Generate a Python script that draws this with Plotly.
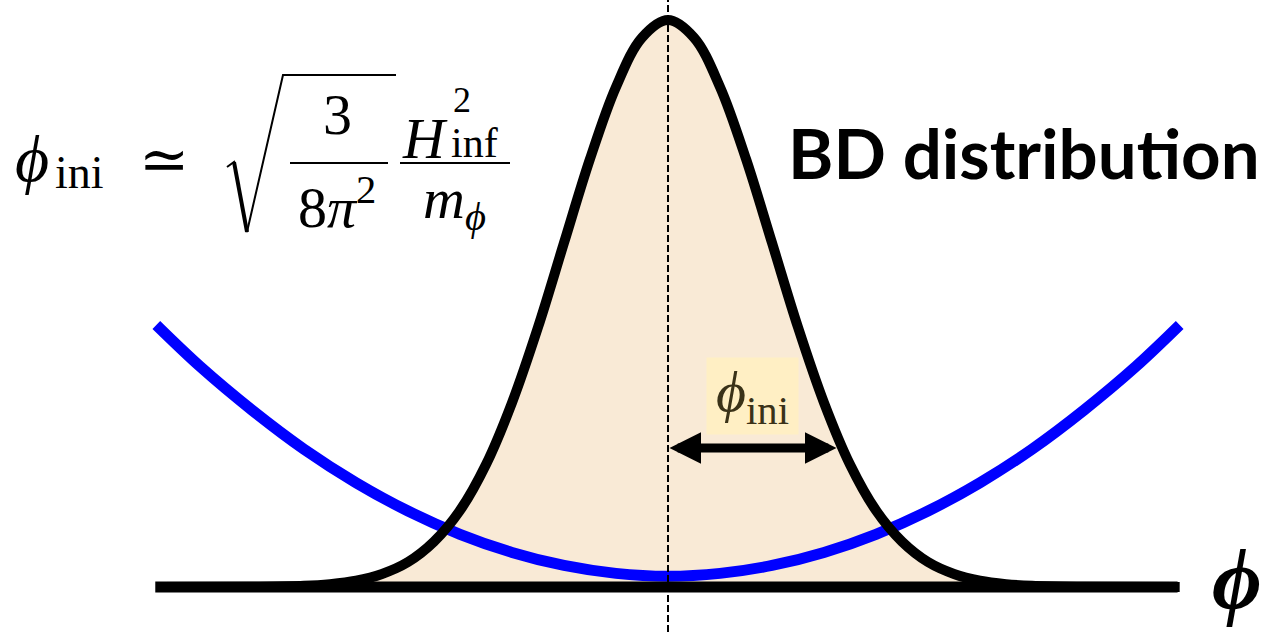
import plotly.graph_objects as go

# ---- data (phi in units of the distribution width, heights normalised to the peak) ----
phi_bd = [-4.92, -4.0, -3.5, -3.25, -3.0, -2.75, -2.5, -2.25, -2.0, -1.75, -1.5, -1.25,
          -1.0, -0.75, -0.5, -0.25, 0.0, 0.25, 0.5, 0.75, 1.0, 1.25, 1.5, 1.75, 2.0,
          2.25, 2.5, 2.75, 3.0, 3.25, 3.5, 4.0, 4.92]
bd_density = [0.0, 0.0004, 0.002, 0.005, 0.011, 0.023, 0.044, 0.08, 0.135, 0.216, 0.325, 0.458,
              0.607, 0.755, 0.882, 0.969, 1.0, 0.969, 0.882, 0.755, 0.607, 0.458, 0.325, 0.216, 0.135,
              0.08, 0.044, 0.023, 0.011, 0.005, 0.002, 0.0004, 0.0]

phi_pot = [-4.92, -4.5, -4.0, -3.5, -3.0, -2.5, -2.0, -1.5, -1.0, -0.5, 0.0,
           0.5, 1.0, 1.5, 2.0, 2.5, 3.0, 3.5, 4.0, 4.5, 4.92]
potential = [0.462, 0.389, 0.312, 0.243, 0.184, 0.134, 0.093, 0.061, 0.038, 0.024, 0.019,
             0.024, 0.038, 0.061, 0.093, 0.134, 0.184, 0.243, 0.312, 0.389, 0.462]

axis_span = [-4.93, 4.9]
phi_ini = 1.62          # half-width marked by the arrow
arrow_level = 0.245     # height of the arrow
label_level = 0.337     # centre height of the phi_ini label

W, H = 1266, 632
FILL = "#F9EAD6"
SERIF = "Liberation Serif, DejaVu Serif, serif"


def px(x):
    return x / W


def py(y):
    return 1 - y / H


fig = go.Figure()

# shaded distribution
fig.add_trace(go.Scatter(x=phi_bd, y=bd_density, mode="lines", fill="tozeroy",
                         fillcolor=FILL, line=dict(width=0, shape="spline"),
                         hoverinfo="skip", showlegend=False))
# quadratic potential
fig.add_trace(go.Scatter(x=phi_pot, y=potential, mode="lines",
                         line=dict(color="#0000FF", width=11, shape="spline"),
                         hoverinfo="skip", showlegend=False))
# distribution outline
fig.add_trace(go.Scatter(x=phi_bd, y=bd_density, mode="lines",
                         line=dict(color="black", width=10, shape="spline"),
                         hoverinfo="skip", showlegend=False))
# phi axis
fig.add_trace(go.Scatter(x=axis_span, y=[0, 0], mode="lines",
                         line=dict(color="black", width=11),
                         hoverinfo="skip", showlegend=False))

shapes = [
    # dashed centre line
    dict(type="line", xref="x", yref="paper", x0=0, x1=0, y0=0, y1=1,
         line=dict(color="black", width=2, dash="7px,3px")),
]

# radical sign and fraction bars of the formula
rad = [(227, 167), (234, 162), (247, 232), (283, 75), (396, 75)]
path = "M " + " L ".join(f"{px(a):.5f},{py(b):.5f}" for a, b in rad)
shapes.append(dict(type="path", xref="paper", yref="paper", path=path,
                   line=dict(color="black", width=2)))
shapes.append(dict(type="line", xref="paper", yref="paper",
                   x0=px(234), y0=py(162), x1=px(247), y1=py(232),
                   line=dict(color="black", width=4)))
for x0, x1 in [(290, 388), (400, 510)]:
    shapes.append(dict(type="line", xref="paper", yref="paper",
                       x0=px(x0), x1=px(x1), y0=py(163), y1=py(163),
                       line=dict(color="black", width=2)))
fig.update_layout(shapes=shapes)


def txt(text, x, y, size, xanchor="center", family=SERIF, color="black", **kw):
    fig.add_annotation(text=text, x=px(x), y=py(y), xref="paper", yref="paper",
                       xanchor=xanchor, yanchor="middle", showarrow=False,
                       font=dict(family=family, size=size, color=color), **kw)


# formula
txt("<i>ϕ</i>", 13, 158, 66, xanchor="left")
txt("ini", 53, 172, 46, xanchor="left")
txt("≃", 164, 159, 60, family="DejaVu Serif")
txt("3", 337, 115, 58)
txt("8<i>π</i><sup>2</sup>", 337, 204, 58)
txt("<i>H</i>", 400, 138, 58, xanchor="left")
txt("2", 462, 100, 36)
txt("inf", 449, 143, 42, xanchor="left")
txt("<i>m</i><sub><i>ϕ</i></sub>", 455, 203, 58)

# title and axis symbol
txt("<b>BD distribution</b>", 786, 153, 69, xanchor="left", family="Lato")
txt("<b><i>ϕ</i></b>", 1237, 579, 86)

# double-headed arrow marking phi_ini
fig.add_annotation(x=phi_ini, y=arrow_level, ax=0, ay=arrow_level,
                   xref="x", yref="y", axref="x", ayref="y", text="",
                   showarrow=True, arrowside="end+start", arrowhead=2, startarrowhead=2,
                   arrowsize=0.7, startarrowsize=0.7, arrowwidth=9, arrowcolor="black",
                   standoff=0, startstandoff=0)
# phi_ini label
fig.add_annotation(x=phi_ini / 2, y=label_level, xref="x", yref="y", showarrow=False,
                   text="<i>ϕ</i><sub>ini</sub>", width=89, height=74,
                   bgcolor="#FFEFC4", font=dict(family=SERIF, size=58, color="#3A3218"))

fig.update_layout(
    width=W, height=H, autosize=False,
    margin=dict(l=0, r=0, t=0, b=0),
    paper_bgcolor="white", plot_bgcolor="white",
    xaxis=dict(range=[-668 / 104, (W - 668) / 104], visible=False, fixedrange=True),
    yaxis=dict(range=[-(H - 587) / 567, 587 / 567], visible=False, fixedrange=True),
    showlegend=False,
)

fig.write_html("out.html", config={"displayModeBar": False})
